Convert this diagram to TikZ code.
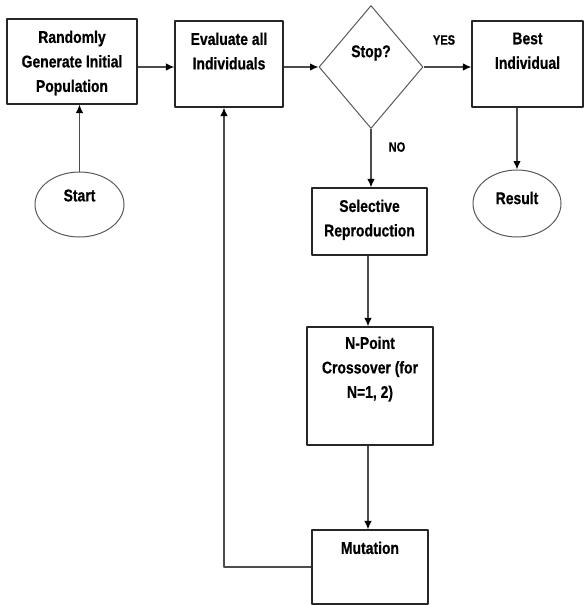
\documentclass[tikz,border=0pt]{standalone}
\usepackage{fontspec}
\setmainfont[FakeStretch=0.82, FakeBold=0.6]{Liberation Sans}
\usetikzlibrary{shapes.geometric,arrows.meta}

\begin{document}
\begin{tikzpicture}[x=1pt, y=1pt, line join=round]
  \tikzset{
    every label/.style={font=\bfseries\fontsize{17}{24.5}\selectfont, align=center, inner sep=0pt},
    stepbox/.style={draw=black!85, line width=1.2pt, inner sep=0pt},
    term/.style={ellipse, draw=black!65, line width=1pt, inner sep=0pt},
    flow/.style={draw=black!70, line width=1.3pt, -{Latex[length=8.5pt, width=7.5pt, color=black]}},
    tag/.style={font=\bfseries\fontsize{13.5}{16}\selectfont, inner sep=0pt}
  }
  \useasboundingbox (0,0) rectangle (585,-605);

  % top row
  \node[stepbox, minimum width=130pt, minimum height=85pt,
    label={[anchor=north, yshift=-12pt]north:Randomly\\Generate Initial\\Population}] (init) at (72,-61.5) {};
  \node[stepbox, minimum width=108pt, minimum height=86pt,
    label={[anchor=north, yshift=-12pt]north:Evaluate all\\Individuals}] (eval) at (229,-64) {};
  \node[diamond, draw=black!65, line width=1pt, inner sep=0pt, minimum width=104pt, minimum height=123pt,
    label={[yshift=14pt]center:Stop?}] (stop) at (371,-67) {};
  \node[stepbox, minimum width=111pt, minimum height=86pt,
    label={[anchor=north, yshift=-12pt]north:Best\\Individual}] (best) at (527.5,-64) {};

  % terminals
  \node[term, minimum width=89pt, minimum height=65pt, label={[yshift=9pt]center:Start}] (start) at (79.5,-204.5) {};
  \node[term, minimum width=88pt, minimum height=67pt, label={[yshift=5.5pt]center:Result}] (result) at (517,-203.5) {};

  % loop column
  \node[stepbox, minimum width=115pt, minimum height=67pt,
    label={[anchor=north, yshift=-12pt]north:Selective\\Reproduction}] (select) at (369.5,-221.5) {};
  \node[stepbox, minimum width=126pt, minimum height=118pt,
    label={[anchor=north, yshift=-10pt]north:N-Point\\Crossover (for\\N=1, 2)}] (cross) at (370,-386) {};
  \node[stepbox, minimum width=116pt, minimum height=74pt,
    label={[anchor=north, yshift=-12pt]north:Mutation}] (mutate) at (370,-567) {};

  \coordinate (back) at (224,-565);

  % connectors
  \draw[flow] (start.north) -- (start.north |- init.south);
  \draw[flow] (init.east |- stop) -- (eval.west |- stop);
  \draw[flow] (eval.east |- stop) -- (stop.west);
  \draw[flow] (stop.east) -- (best.west |- stop);
  \draw[flow] (result |- best.south) -- (result.north);
  \draw[flow] (stop.south) -- (stop.south |- select.north);
  \draw[flow] (select.south -| 368,0) -- (cross.north -| 368,0);
  \draw[flow] (cross.south -| 368,0) -- (mutate.north -| 368,0);
  \draw[flow] (mutate.west) -| (back |- eval.south);

  \node[tag] (yes) at (444,-40) {YES};
  \node[tag] (no) at (397,-147) {NO};
\end{tikzpicture}
\end{document}
